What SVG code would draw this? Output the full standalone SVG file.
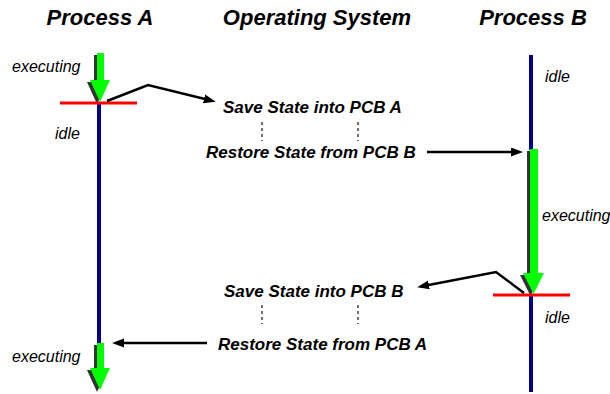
<svg xmlns="http://www.w3.org/2000/svg" width="610" height="394" viewBox="0 0 610 394">
<style>
.hdr{font-family:"Liberation Sans",Arial,sans-serif;font-size:22px;font-weight:bold;font-style:italic;fill:#000;text-anchor:middle}
.op{font-family:"Liberation Sans",Arial,sans-serif;font-size:17px;font-weight:bold;font-style:italic;fill:#000}
.st{font-family:"Liberation Sans",Arial,sans-serif;font-size:16px;font-style:italic;fill:#000}
.blue{stroke:#00008f;stroke-width:4;fill:none}
.red{stroke:#ff0000;stroke-width:3;fill:none}
.conn{stroke:#000;stroke-width:2.5;fill:none;marker-end:url(#ah)}
.dot{stroke:#444;stroke-width:1.5;stroke-dasharray:3 3;fill:none}
.shadow{fill:#333}
.green{fill:#00ff00}
</style>
<defs>
<marker id="ah" markerUnits="userSpaceOnUse" markerWidth="13" markerHeight="10" refX="3" refY="4.5" orient="auto">
<path d="M0,0 L12,4.5 L0,9 z" fill="#000"/>
</marker>
</defs>
<rect width="610" height="394" fill="#fff"/>
<g id="headers">
<text class="hdr" x="100" y="25">Process A</text>
<text class="hdr" x="317" y="25">Operating System</text>
<text class="hdr" x="533" y="25">Process B</text>
</g>
<g id="processA">
<line class="blue" x1="99" y1="103" x2="99" y2="345"/>
<polygon class="shadow" transform="translate(-3,2)" points="97,53 104,53 104,80 110,80 100,102 90,80 97,80"/>
<polygon class="green" points="97,53 104,53 104,80 110,80 100,102 90,80 97,80"/>
<line class="red" x1="60" y1="103" x2="137" y2="103"/>
<polygon class="shadow" transform="translate(-3,2)" points="97,343 104,343 104,368 110,368 100,390 90,368 97,368"/>
<polygon class="green" points="97,343 104,343 104,368 110,368 100,390 90,368 97,368"/>
<text class="st" x="12" y="72">executing</text>
<text class="st" x="55" y="139">idle</text>
<text class="st" x="12" y="362">executing</text>
</g>
<g id="processB">
<line class="blue" x1="531" y1="55" x2="531" y2="150"/>
<line class="blue" x1="531" y1="295" x2="531" y2="392"/>
<polygon class="shadow" transform="translate(-3,2)" points="530,149 538,149 538,273 544,273 533.5,294 523,273 530,273"/>
<polygon class="green" points="530,149 538,149 538,273 544,273 533.5,294 523,273 530,273"/>
<line class="red" x1="493" y1="295" x2="570" y2="295"/>
<text class="st" x="545" y="82">idle</text>
<text class="st" x="542" y="221">executing</text>
<text class="st" x="545" y="323">idle</text>
</g>
<g id="os">
<text class="op" x="223" y="113">Save State into PCB A</text>
<text class="op" x="206" y="158">Restore State from PCB B</text>
<text class="op" x="224" y="297">Save State into PCB B</text>
<text class="op" x="218" y="350">Restore State from PCB A</text>
<line class="dot" x1="262" y1="122" x2="262" y2="141"/>
<line class="dot" x1="358" y1="122" x2="358" y2="141"/>
<line class="dot" x1="262" y1="305" x2="262" y2="324"/>
<line class="dot" x1="358" y1="305" x2="358" y2="324"/>
</g>
<g id="connectors">
<polyline class="conn" points="107,101 148,85 207,99.5"/>
<line class="conn" x1="427" y1="152" x2="514" y2="152"/>
<polyline class="conn" points="524,293 496,272 426,285.5"/>
<line class="conn" x1="207" y1="343" x2="121" y2="343"/>
</g>
</svg>
